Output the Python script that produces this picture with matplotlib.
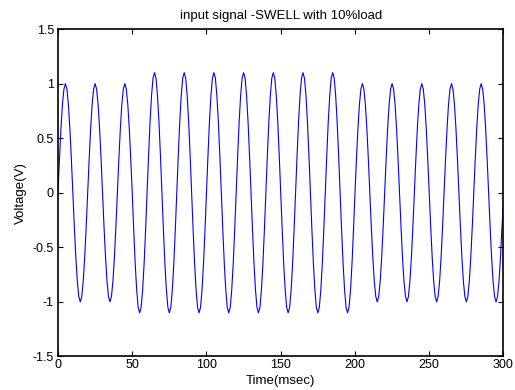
import numpy as np
import matplotlib
matplotlib.use("Agg")
import matplotlib.pyplot as plt

plt.rcParams['font.family'] = ['Liberation Sans', 'DejaVu Sans']

time_ms = np.arange(0, 301)
voltage = [
    0.00, 0.31, 0.59, 0.81, 0.95, 1.00, 0.95, 0.81, 0.59, 0.31, 0.00, -0.31, -0.59, -0.81, -0.95, -1.00, -0.95, -0.81, -0.59, -0.31,
    0.00, 0.31, 0.59, 0.81, 0.95, 1.00, 0.95, 0.81, 0.59, 0.31, 0.00, -0.31, -0.59, -0.81, -0.95, -1.00, -0.95, -0.81, -0.59, -0.31,
    0.00, 0.31, 0.59, 0.81, 0.95, 1.00, 0.95, 0.81, 0.59, 0.31,
    # swell starts (50 msec)
    0.00, -0.34, -0.65, -0.89, -1.05, -1.10, -1.05, -0.89, -0.65, -0.34,
    0.00, 0.34, 0.65, 0.89, 1.05, 1.10, 1.05, 0.89, 0.65, 0.34, 0.00, -0.34, -0.65, -0.89, -1.05, -1.10, -1.05, -0.89, -0.65, -0.34,
    0.00, 0.34, 0.65, 0.89, 1.05, 1.10, 1.05, 0.89, 0.65, 0.34, 0.00, -0.34, -0.65, -0.89, -1.05, -1.10, -1.05, -0.89, -0.65, -0.34,
    0.00, 0.34, 0.65, 0.89, 1.05, 1.10, 1.05, 0.89, 0.65, 0.34, 0.00, -0.34, -0.65, -0.89, -1.05, -1.10, -1.05, -0.89, -0.65, -0.34,
    0.00, 0.34, 0.65, 0.89, 1.05, 1.10, 1.05, 0.89, 0.65, 0.34, 0.00, -0.34, -0.65, -0.89, -1.05, -1.10, -1.05, -0.89, -0.65, -0.34,
    0.00, 0.34, 0.65, 0.89, 1.05, 1.10, 1.05, 0.89, 0.65, 0.34, 0.00, -0.34, -0.65, -0.89, -1.05, -1.10, -1.05, -0.89, -0.65, -0.34,
    0.00, 0.34, 0.65, 0.89, 1.05, 1.10, 1.05, 0.89, 0.65, 0.34, 0.00, -0.34, -0.65, -0.89, -1.05, -1.10, -1.05, -0.89, -0.65, -0.34,
    0.00, 0.34, 0.65, 0.89, 1.05, 1.10, 1.05, 0.89, 0.65, 0.34, 0.00, -0.34, -0.65, -0.89, -1.05, -1.10, -1.05, -0.89, -0.65, -0.34,
    # back to normal (200 msec)
    0.00, 0.31, 0.59, 0.81, 0.95, 1.00, 0.95, 0.81, 0.59, 0.31, 0.00, -0.31, -0.59, -0.81, -0.95, -1.00, -0.95, -0.81, -0.59, -0.31,
    0.00, 0.31, 0.59, 0.81, 0.95, 1.00, 0.95, 0.81, 0.59, 0.31, 0.00, -0.31, -0.59, -0.81, -0.95, -1.00, -0.95, -0.81, -0.59, -0.31,
    0.00, 0.31, 0.59, 0.81, 0.95, 1.00, 0.95, 0.81, 0.59, 0.31, 0.00, -0.31, -0.59, -0.81, -0.95, -1.00, -0.95, -0.81, -0.59, -0.31,
    0.00, 0.31, 0.59, 0.81, 0.95, 1.00, 0.95, 0.81, 0.59, 0.31, 0.00, -0.31, -0.59, -0.81, -0.95, -1.00, -0.95, -0.81, -0.59, -0.31,
    0.00, 0.31, 0.59, 0.81, 0.95, 1.00, 0.95, 0.81, 0.59, 0.31, 0.00, -0.31, -0.59, -0.81, -0.95, -1.00, -0.95, -0.81, -0.59, -0.31,
    -0.10,
]

xticks = [0, 50, 100, 150, 200, 250, 300]
yticks = [-1.5, -1, -0.5, 0, 0.5, 1, 1.5]

fig = plt.figure(figsize=(5.15, 3.9), dpi=100)
ax = fig.add_axes([0.1126, 0.0859, 0.865, 0.8397])

ax.plot(time_ms, voltage, color='#0000ff', linewidth=0.8)

ax.set_xlim(0, 300)
ax.set_ylim(-1.5, 1.5)
ax.set_xticks(xticks)
ax.set_yticks(yticks)
ax.set_yticklabels(['-1.5', '-1', '-0.5', '0', '0.5', '1', '1.5'])

ax.tick_params(direction='in', top=True, right=True, length=3.5, width=0.8,
               labelsize=9, pad=3)
ax.tick_params(axis='x', pad=2)
for s in ax.spines.values():
    s.set_linewidth(1.2)

ax.set_title('input signal -SWELL with 10%load', fontsize=9.5, pad=7)
ax.set_xlabel('Time(msec)', fontsize=9.5, labelpad=3)
ax.set_ylabel('Voltage(V)', fontsize=9.5, labelpad=4)

fig.savefig('out.png', dpi=100)
